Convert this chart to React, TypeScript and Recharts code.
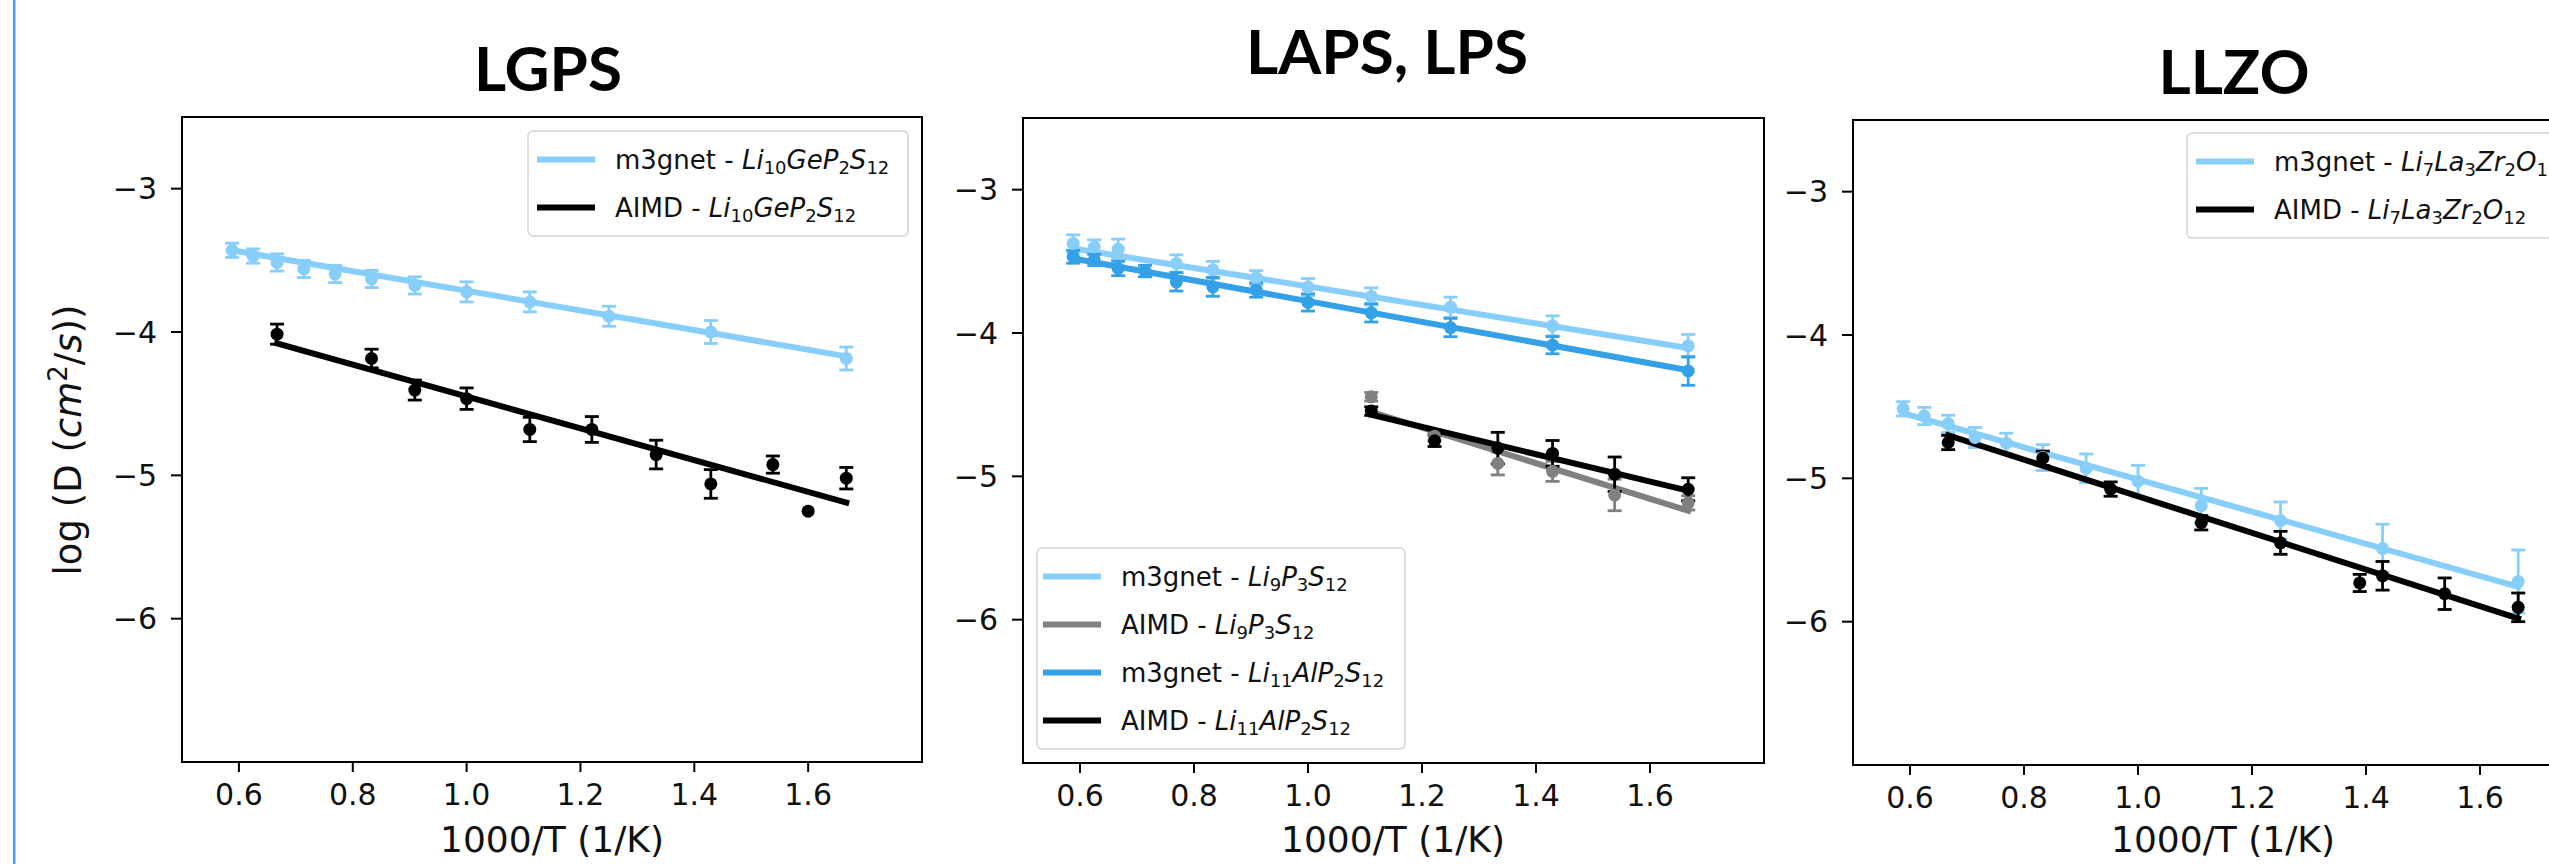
import React from 'react';
import { ComposedChart, Scatter, Line, XAxis, YAxis, ErrorBar, ReferenceArea } from 'recharts';

// ---------- axes ----------
const X_TICKS = [0.6, 0.8, 1.0, 1.2, 1.4, 1.6];
const Y_TICKS = [-6, -5, -4, -3];
const X_DOMAIN: [number, number] = [0.5, 1.8];
const Y_DOMAIN: [number, number] = [-7, -2.5];

// ---------- colours ----------
const LIGHT = '#87CEFA';
const MID = '#34a0e8';
const GRAY = '#808080';
const BLACK = '#000000';

// ---------- LGPS ----------
const lgpsM3gX = [0.588, 0.625, 0.667, 0.714, 0.769, 0.833, 0.909, 1.0, 1.111, 1.25, 1.429, 1.667];
const lgpsM3gY = [-3.43, -3.47, -3.515, -3.56, -3.595, -3.63, -3.675, -3.72, -3.79, -3.89, -4.0, -4.185];
const lgpsM3gErr = [0.05, 0.05, 0.06, 0.06, 0.06, 0.06, 0.06, 0.07, 0.07, 0.07, 0.08, 0.08];
const lgpsAimdX = [0.667, 0.833, 0.909, 1.0, 1.111, 1.22, 1.333, 1.429, 1.538, 1.6, 1.667];
const lgpsAimdY = [-4.015, -4.185, -4.405, -4.465, -4.68, -4.68, -4.855, -5.06, -4.925, -5.25, -5.02];
const lgpsAimdErr = [0.07, 0.065, 0.07, 0.075, 0.085, 0.09, 0.1, 0.1, 0.06, 0.0, 0.075];
const lgpsM3gFitX = [0.588, 1.667];
const lgpsM3gFitY = [-3.43, -4.17];
const lgpsAimdFitX = [0.667, 1.667];
const lgpsAimdFitY = [-4.08, -5.19];

// ---------- LAPS, LPS ----------
const lpsM3gX = [0.588, 0.625, 0.667, 0.769, 0.833, 0.909, 1.0, 1.111, 1.25, 1.429, 1.667];
const lpsM3gY = [-3.375, -3.4, -3.415, -3.515, -3.56, -3.615, -3.68, -3.745, -3.82, -3.95, -4.09];
const lpsM3gErr = [0.06, 0.05, 0.07, 0.06, 0.06, 0.05, 0.06, 0.06, 0.07, 0.07, 0.08];
const lpsAimdX = [1.111, 1.222, 1.333, 1.429, 1.538, 1.667];
const lpsAimdY = [-4.445, -4.72, -4.91, -4.965, -5.13, -5.185];
const lpsAimdErr = [0.03, 0.03, 0.08, 0.07, 0.11, 0.05];
const lapsM3gX = [0.588, 0.625, 0.667, 0.714, 0.769, 0.833, 0.909, 1.0, 1.111, 1.25, 1.429, 1.667];
const lapsM3gY = [-3.468, -3.49, -3.55, -3.568, -3.643, -3.678, -3.7, -3.787, -3.859, -3.962, -4.085, -4.265];
const lapsM3gErr = [0.045, 0.04, 0.05, 0.04, 0.064, 0.066, 0.05, 0.06, 0.064, 0.064, 0.06, 0.1];
const lapsAimdX = [1.111, 1.222, 1.333, 1.429, 1.538, 1.667];
const lapsAimdY = [-4.545, -4.752, -4.803, -4.84, -4.985, -5.09];
const lapsAimdErr = [0.03, 0.04, 0.11, 0.09, 0.12, 0.08];
const lpsM3gFitX = [0.588, 1.667];
const lpsM3gFitY = [-3.41, -4.105];
const lapsM3gFitX = [0.588, 1.667];
const lapsM3gFitY = [-3.48, -4.26];
const lpsAimdFitX = [1.111, 1.667];
const lpsAimdFitY = [-4.55, -5.24];
const lapsAimdFitX = [1.111, 1.667];
const lapsAimdFitY = [-4.57, -5.1];

// ---------- LLZO ----------
const llzoM3gX = [0.588, 0.625, 0.667, 0.714, 0.769, 0.833, 0.909, 1.0, 1.111, 1.25, 1.429, 1.667];
const llzoM3gY = [-4.515, -4.565, -4.62, -4.715, -4.755, -4.855, -4.93, -5.02, -5.19, -5.295, -5.49, -5.72];
const llzoM3gErr = [0.05, 0.06, 0.06, 0.07, 0.07, 0.09, 0.1, 0.11, 0.12, 0.13, 0.17, 0.22];
const llzoAimdX = [0.667, 0.833, 0.952, 1.111, 1.25, 1.389, 1.429, 1.538, 1.667];
const llzoAimdY = [-4.75, -4.86, -5.075, -5.31, -5.45, -5.73, -5.68, -5.805, -5.9];
const llzoAimdErr = [0.05, 0.05, 0.05, 0.05, 0.08, 0.06, 0.1, 0.11, 0.1];
const llzoM3gFitX = [0.588, 1.667];
const llzoM3gFitY = [-4.545, -5.757];
const llzoAimdFitX = [0.667, 1.667];
const llzoAimdFitY = [-4.7, -5.977];

// ---------- formulas for legends ----------
type Part = [string, string];
const LGPS_F: Part[] = [['Li', '10'], ['GeP', '2'], ['S', '12']];
const LPS_F: Part[] = [['Li', '9'], ['P', '3'], ['S', '12']];
const LAPS_F: Part[] = [['Li', '11'], ['AlP', '2'], ['S', '12']];
const LLZO_F: Part[] = [['Li', '7'], ['La', '3'], ['Zr', '2'], ['O', '12']];

const FONT = 'DejaVu Sans';

type Series = { xs: number[]; ys: number[]; errs: number[]; fitX: number[]; fitY: number[]; color: string };

const pts = (xs: number[], ys: number[], errs?: number[]) =>
  xs.map((x, i) => (errs ? { x, y: ys[i], e: errs[i] } : { x, y: ys[i] }));

const minusFmt = (v: number) => (v < 0 ? '\u2212' + Math.abs(v) : String(v));

function Panel({ plot, series }: { plot: [number, number, number, number]; series: Series[] }) {
  const [pl, pt, pr, pb] = plot;
  const YW = 110, XH = 60, MT = 10, MR = 10;
  const left = pl - YW;
  const top = pt - MT;
  const width = pr - left + MR;
  const height = pb - top + XH;
  const children: React.ReactNode[] = [];
  series.forEach((s, i) => {
    const color = s.color;
    children.push(
      <Scatter
        key={'s' + i}
        data={pts(s.xs, s.ys, s.errs)}
        dataKey="y"
        fill={color}
        isAnimationActive={false}
        shape={(p: any) => <circle cx={p.cx} cy={p.cy} r={6.5} fill={color} />}
      >
        <ErrorBar dataKey="e" direction="y" width={7} strokeWidth={2.8} stroke={color} />
      </Scatter>
    );
    children.push(
      <Line
        key={'l' + i}
        data={pts(s.fitX, s.fitY)}
        dataKey="y"
        type="linear"
        stroke={color}
        strokeWidth={6}
        strokeLinecap="square"
        dot={false}
        activeDot={false}
        isAnimationActive={false}
      />
    );
  });
  return (
    <div style={{ position: 'absolute', left, top }}>
      <ComposedChart width={width} height={height} margin={{ top: MT, right: MR, bottom: 0, left: 0 }}>
        <XAxis
          type="number"
          dataKey="x"
          domain={X_DOMAIN}
          ticks={X_TICKS}
          allowDataOverflow
          interval={0}
          tickFormatter={(v: number) => v.toFixed(1)}
          height={XH}
          tickSize={10}
          tickMargin={12}
          axisLine={{ stroke: '#000', strokeWidth: 2 }}
          tickLine={{ stroke: '#000', strokeWidth: 2 }}
          tick={{ fill: '#111', fontSize: 30, fontFamily: FONT }}
        />
        <YAxis
          type="number"
          domain={Y_DOMAIN}
          ticks={Y_TICKS}
          allowDataOverflow
          interval={0}
          tickFormatter={minusFmt}
          width={YW}
          tickSize={11}
          tickMargin={14}
          axisLine={{ stroke: '#000', strokeWidth: 2 }}
          tickLine={{ stroke: '#000', strokeWidth: 2 }}
          tick={{ fill: '#111', fontSize: 30, fontFamily: FONT }}
        />
        <ReferenceArea x1={0.5} x2={1.8} y1={-7} y2={-2.5} fill="none" fillOpacity={0} stroke="#000" strokeWidth={2} />
        {children}
      </ComposedChart>
    </div>
  );
}

function Formula({ parts }: { parts: Part[] }) {
  const out: React.ReactNode[] = [];
  parts.forEach(([main, sub], i) => {
    out.push(
      <tspan key={'m' + i} fontStyle="italic" dy={i === 0 ? 0 : -5}>
        {main}
      </tspan>
    );
    out.push(
      <tspan key={'s' + i} fontSize={18} dy={5}>
        {sub}
      </tspan>
    );
  });
  return <>{out}</>;
}

type Row = { color: string; prefix: string; parts: Part[] };

function LegendBox({ x, y, w, rows, hdx }: { x: number; y: number; w: number; rows: Row[]; hdx: number }) {
  const pad = 28.5;
  const h = pad * 2 + 48 * (rows.length - 1);
  return (
    <g>
      <rect x={x} y={y} width={w} height={h} rx={5} ry={5} fill="#fff" fillOpacity={0.85} stroke="#d4d4d4" strokeWidth={1.5} />
      {rows.map((r, i) => {
        const cy = y + pad + i * 48;
        return (
          <g key={i}>
            <line x1={x + hdx} x2={x + hdx + 58} y1={cy} y2={cy} stroke={r.color} strokeWidth={6} />
            <text x={x + hdx + 78} y={cy + 9} fontSize={26} fontFamily={FONT} fill="#111">
              {r.prefix}
              <Formula parts={r.parts} />
            </text>
          </g>
        );
      })}
    </g>
  );
}

export default function App() {
  const lgps: Series[] = [
    { xs: lgpsM3gX, ys: lgpsM3gY, errs: lgpsM3gErr, fitX: lgpsM3gFitX, fitY: lgpsM3gFitY, color: LIGHT },
    { xs: lgpsAimdX, ys: lgpsAimdY, errs: lgpsAimdErr, fitX: lgpsAimdFitX, fitY: lgpsAimdFitY, color: BLACK },
  ];
  const laps: Series[] = [
    { xs: lpsM3gX, ys: lpsM3gY, errs: lpsM3gErr, fitX: lpsM3gFitX, fitY: lpsM3gFitY, color: LIGHT },
    { xs: lpsAimdX, ys: lpsAimdY, errs: lpsAimdErr, fitX: lpsAimdFitX, fitY: lpsAimdFitY, color: GRAY },
    { xs: lapsM3gX, ys: lapsM3gY, errs: lapsM3gErr, fitX: lapsM3gFitX, fitY: lapsM3gFitY, color: MID },
    { xs: lapsAimdX, ys: lapsAimdY, errs: lapsAimdErr, fitX: lapsAimdFitX, fitY: lapsAimdFitY, color: BLACK },
  ];
  const llzo: Series[] = [
    { xs: llzoM3gX, ys: llzoM3gY, errs: llzoM3gErr, fitX: llzoM3gFitX, fitY: llzoM3gFitY, color: LIGHT },
    { xs: llzoAimdX, ys: llzoAimdY, errs: llzoAimdErr, fitX: llzoAimdFitX, fitY: llzoAimdFitY, color: BLACK },
  ];
  return (
    <div style={{ position: 'absolute', left: 0, top: 0, width: 2549, height: 864, overflow: 'hidden', background: '#fff' }}>
      <Panel plot={[182, 117, 922, 762]} series={lgps} />
      <Panel plot={[1023, 118, 1764, 763]} series={laps} />
      <Panel plot={[1853, 120, 2594, 765]} series={llzo} />
      <svg width={2549} height={864} style={{ position: 'absolute', left: 0, top: 0, pointerEvents: 'none' }}>
        <rect x={13} y={0} width={2.5} height={864} fill="#4a9ff0" />
        <text x={548} y={91} textAnchor="middle" fontFamily="Lato" fontWeight={700} fontSize={62} fill="#000">LGPS</text>
        <text x={1387} y={74} textAnchor="middle" fontFamily="Lato" fontWeight={700} fontSize={62} fill="#000">LAPS, LPS</text>
        <text x={2234} y={94} textAnchor="middle" fontFamily="Lato" fontWeight={700} fontSize={62} fill="#000">LLZO</text>
        <text transform="translate(81,440) rotate(-90)" textAnchor="middle" fontSize={37} fontFamily={FONT} fill="#111">
          log (D (<tspan fontStyle="italic">cm</tspan>
          <tspan fontSize={26} dy={-14}>2</tspan>
          <tspan dy={14}>/</tspan>
          <tspan fontStyle="italic">s</tspan>))
        </text>
        <text x={552} y={852} textAnchor="middle" fontSize={36} fontFamily={FONT} fill="#111">1000/T (1/K)</text>
        <text x={1393} y={852} textAnchor="middle" fontSize={36} fontFamily={FONT} fill="#111">1000/T (1/K)</text>
        <text x={2223} y={852} textAnchor="middle" fontSize={36} fontFamily={FONT} fill="#111">1000/T (1/K)</text>
        <LegendBox
          x={528}
          y={131}
          w={380}
          hdx={9}
          rows={[
            { color: LIGHT, prefix: 'm3gnet - ', parts: LGPS_F },
            { color: BLACK, prefix: 'AIMD - ', parts: LGPS_F },
          ]}
        />
        <LegendBox
          x={1037}
          y={548}
          w={368}
          hdx={6}
          rows={[
            { color: LIGHT, prefix: 'm3gnet - ', parts: LPS_F },
            { color: GRAY, prefix: 'AIMD - ', parts: LPS_F },
            { color: MID, prefix: 'm3gnet - ', parts: LAPS_F },
            { color: BLACK, prefix: 'AIMD - ', parts: LAPS_F },
          ]}
        />
        <LegendBox
          x={2187}
          y={133}
          w={420}
          hdx={9}
          rows={[
            { color: LIGHT, prefix: 'm3gnet - ', parts: LLZO_F },
            { color: BLACK, prefix: 'AIMD - ', parts: LLZO_F },
          ]}
        />
      </svg>
    </div>
  );
}
